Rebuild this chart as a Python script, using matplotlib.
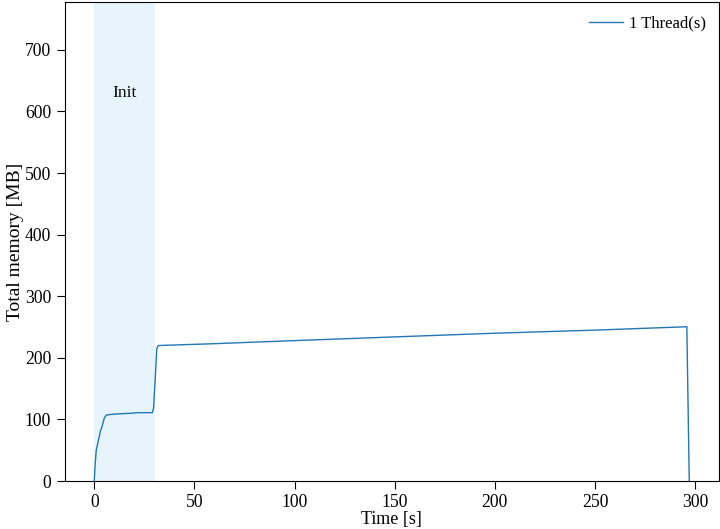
import matplotlib

matplotlib.use("Agg")
import matplotlib.pyplot as plt

plt.rcParams["font.family"] = ["Liberation Serif", "DejaVu Serif"]
plt.rcParams["font.size"] = 12.7

# memory samples of the single-thread run
time_s = [0.0, 0.5, 1.0, 2.0, 3.0, 4.0, 5.0, 6.0, 8.0, 12.0, 18.0, 22.0, 29.0, 29.6,
          30.5, 31.2, 32.0, 60.0, 100.0, 150.0, 200.0, 250.0, 295.8, 297.0]
mem_mb = [0.0, 30.0, 50.0, 65.0, 80.0, 90.0, 102.0, 107.0, 108.0, 109.0, 110.0, 111.0,
          111.0, 118.0, 170.0, 215.0, 220.0, 223.0, 228.0, 234.0, 240.0, 245.0, 250.5, 0.0]
series_label = "1 Thread(s)"

init_start, init_end = 0.0, 30.5
init_label = "Init"

fig = plt.figure(figsize=(7.2, 5.29), dpi=100)
ax = fig.add_axes([0.0896, 0.0907, 0.909, 0.9046])

ax.axvspan(init_start, init_end, color="#e8f4fb", lw=0, zorder=0)
ax.text((init_start + init_end) / 2, 630, init_label, ha="center", va="center", fontsize=12.5)
ax.plot(time_s, mem_mb, color="#1f77b4", lw=1.0, label=series_label)

ax.set_ylim(0, 777)
ax.set_yticks(range(0, 800, 100))
ax.set_xlabel("Time [s]", labelpad=0, fontsize=13)
ax.set_ylabel("Total memory [MB]", labelpad=1, fontsize=14)
ax.tick_params(length=6)
ax.legend(loc="upper right", frameon=False, fontsize=12, handlelength=2.0,
          handletextpad=0.35, borderaxespad=0.4)

fig.savefig("out.png")
